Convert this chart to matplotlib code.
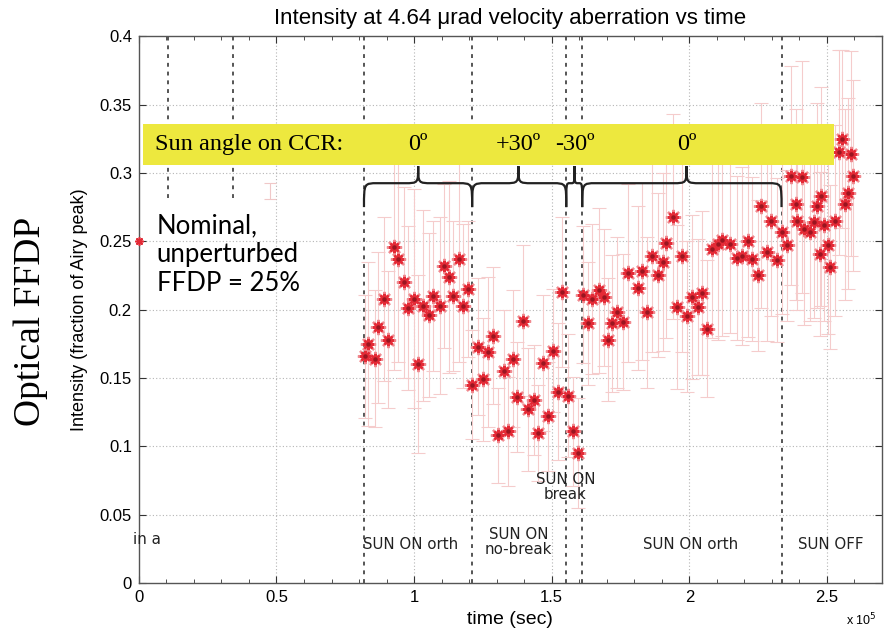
import matplotlib
matplotlib.use("Agg")
import matplotlib.pyplot as plt
from matplotlib.path import Path
from matplotlib.patches import PathPatch, Rectangle
from matplotlib.ticker import MultipleLocator

# ---------------- data (time in units of 1e5 s) ----------------
t_nominal = [0.0]
i_nominal = [0.250]

t_orth1 = [0.822, 0.834, 0.858, 0.870, 0.892, 0.907, 0.928, 0.943, 0.965, 0.979, 0.999,
           1.016, 1.034, 1.055, 1.070, 1.095, 1.107, 1.128, 1.143, 1.164, 1.179, 1.197]
i_orth1 = [0.166, 0.175, 0.164, 0.187, 0.208, 0.178, 0.246, 0.237, 0.220, 0.201, 0.208,
           0.160, 0.203, 0.196, 0.210, 0.203, 0.232, 0.224, 0.210, 0.237, 0.203, 0.215]
e_orth1 = [0.045, 0.060, 0.050, 0.055, 0.060, 0.050, 0.090, 0.075, 0.070, 0.060, 0.080,
           0.065, 0.070, 0.060, 0.055, 0.065, 0.060, 0.070, 0.055, 0.075, 0.060, 0.050]

t_nobreak = [1.212, 1.234, 1.252, 1.270, 1.288, 1.304, 1.325, 1.343, 1.361, 1.373,
             1.397, 1.413, 1.434, 1.452, 1.467, 1.488, 1.503, 1.523, 1.537]
i_nobreak = [0.145, 0.173, 0.149, 0.169, 0.181, 0.108, 0.155, 0.111, 0.164, 0.136,
             0.192, 0.127, 0.134, 0.110, 0.161, 0.122, 0.170, 0.140, 0.213]
e_nobreak = [0.040, 0.050, 0.045, 0.055, 0.050, 0.035, 0.045, 0.040, 0.050, 0.040,
             0.055, 0.045, 0.040, 0.035, 0.050, 0.040, 0.045, 0.050, 0.055]

t_break = [1.559, 1.576, 1.597]
i_break = [0.137, 0.111, 0.095]
e_break = [0.045, 0.040, 0.040]

t_orth2 = [1.612, 1.631, 1.647, 1.672, 1.691, 1.703, 1.720, 1.739, 1.760, 1.776,
           1.812, 1.829, 1.848, 1.865, 1.885, 1.905, 1.917, 1.942, 1.955, 1.975,
           1.992, 2.008, 2.030, 2.047, 2.063, 2.081, 2.105, 2.120, 2.148, 2.172,
           2.190, 2.212, 2.226, 2.248, 2.261, 2.281, 2.297, 2.319]
i_orth2 = [0.211, 0.190, 0.208, 0.214, 0.209, 0.178, 0.190, 0.198, 0.191, 0.227,
           0.216, 0.228, 0.198, 0.239, 0.225, 0.235, 0.249, 0.268, 0.202, 0.239,
           0.195, 0.209, 0.202, 0.212, 0.186, 0.244, 0.248, 0.251, 0.248, 0.238,
           0.239, 0.250, 0.237, 0.225, 0.276, 0.242, 0.265, 0.236]
e_orth2 = [0.050, 0.045, 0.055, 0.060, 0.050, 0.045, 0.050, 0.055, 0.050, 0.065,
           0.060, 0.065, 0.055, 0.070, 0.060, 0.065, 0.070, 0.075, 0.060, 0.070,
           0.055, 0.060, 0.050, 0.060, 0.050, 0.065, 0.070, 0.070, 0.065, 0.060,
           0.065, 0.070, 0.060, 0.055, 0.075, 0.065, 0.070, 0.060]

t_off = [2.338, 2.354, 2.370, 2.389, 2.392, 2.410, 2.416, 2.437, 2.452, 2.464, 2.474,
         2.479, 2.488, 2.503, 2.510, 2.531, 2.543, 2.553, 2.564, 2.576, 2.589, 2.595]
i_off = [0.257, 0.247, 0.298, 0.277, 0.265, 0.297, 0.259, 0.257, 0.264, 0.276, 0.241,
         0.283, 0.262, 0.247, 0.231, 0.265, 0.315, 0.325, 0.277, 0.285, 0.314, 0.298]
e_off = [0.060, 0.055, 0.080, 0.070, 0.065, 0.085, 0.070, 0.065, 0.070, 0.075, 0.060,
         0.080, 0.070, 0.065, 0.060, 0.070, 0.075, 0.065, 0.070, 0.070, 0.075, 0.070]

# faint stray error bar
t_faint = [0.478]
i_faint = [0.287]
e_faint = [0.006]

# phase boundaries (event times)
early_marks = [0.105, 0.342]
phase_bounds = [0.818, 1.211, 1.553, 1.611, 2.335]

# sun angle labels / brace tips
angle_labels = ["0\u00ba", "+30\u00ba", "-30\u00ba", "0\u00ba"]
angle_tips = [1.015, 1.379, 1.583, 1.990]

# bottom phase labels
phase_labels = ["SUN ON orth", "SUN ON\nno-break", "SUN ON\nbreak", "SUN ON orth", "SUN OFF"]
phase_label_x = [0.986, 1.379, 1.550, 2.005, 2.515]
phase_label_y = [0.028, 0.030, 0.070, 0.028, 0.028]

x_ticks = [0, 0.5, 1, 1.5, 2, 2.5]
x_tick_labels = ["0", "0.5", "1", "1.5", "2", "2.5"]
y_ticks = [0, 0.05, 0.1, 0.15, 0.2, 0.25, 0.3, 0.35, 0.4]
y_tick_labels = ["0", "0.05", "0.1", "0.15", "0.2", "0.25", "0.3", "0.35", "0.4"]

# ---------------- figure ----------------
fig = plt.figure(figsize=(8.9, 6.36), dpi=100)
ax = fig.add_axes([0.156, 0.0833, 0.835, 0.8597])
ax.set_xlim(0, 2.70)
ax.set_ylim(0, 0.4)

# grid
for xv in x_ticks[1:]:
    ax.axvline(xv, color="#b5b5b5", lw=0.8, ls=(0, (1, 2)), zorder=0)
for yv in y_ticks[1:-1]:
    ax.axhline(yv, color="#b5b5b5", lw=0.8, ls=(0, (1, 2)), zorder=0)

# phase lines
for xv in early_marks:
    ax.plot([xv, xv], [0.282, 0.4], color="#555555", lw=1.4, ls=(0, (2, 2.5)), zorder=1)
for xv in phase_bounds:
    ax.axvline(xv, color="#555555", lw=1.4, ls=(0, (2, 2.5)), zorder=1)

ebar_col = "#f5cccc"
star_col = "#e42a36"
groups = [(t_orth1, i_orth1, e_orth1), (t_nobreak, i_nobreak, e_nobreak),
          (t_break, i_break, e_break), (t_orth2, i_orth2, e_orth2),
          (t_off, i_off, e_off)]
for t, i, e in groups:
    ax.errorbar(t, i, yerr=e, fmt="none", ecolor=ebar_col, elinewidth=0.8,
                capsize=5, capthick=0.8, zorder=2)
ax.errorbar(t_faint, i_faint, yerr=e_faint, fmt="none", ecolor="#f0c8c8",
            elinewidth=0.8, capsize=4, capthick=0.8, zorder=2)
for t, i, e in groups:
    ax.plot(t, i, ls="none", marker=(8, 2, 0), ms=11, mew=1.6, color="#f08a90",
            zorder=3)
    ax.plot(t, i, ls="none", marker=(8, 2, 0), ms=8, mew=1.8, color=star_col,
            zorder=3)
    ax.plot(t, i, ls="none", marker="o", ms=2.2, color="#9a1520", zorder=4)
ax.plot(t_nominal, i_nominal, ls="none", marker=(8, 2, 0), ms=6, mew=1.2,
        color=star_col, zorder=3, clip_on=False)

# yellow banner
ax.add_patch(Rectangle((0.015, 0.3057), 2.509, 0.0300, facecolor="#ede83e",
                       edgecolor="none", zorder=5))
ax.text(0.06, 0.3207, "Sun angle on CCR:", family="Liberation Serif", fontsize=17.5,
        va="center", ha="left", zorder=6)
for lab, xt in zip(angle_labels, angle_tips):
    ax.text(xt, 0.3207, lab, family="Liberation Serif", fontsize=17.5,
            va="center", ha="center", zorder=6)

# braces
yt, yh, ye = 0.3050, 0.2925, 0.2750
starts = phase_bounds[:-1]
ends = phase_bounds[1:]
for x0, x1, xm in zip(starts, ends, angle_tips):
    rx = min(0.05, (xm - x0) / 2.2, (x1 - xm) / 2.2)
    verts = [(x0, ye),
             (x0, yh), (x0, yh), (x0 + rx, yh),
             (xm - rx, yh),
             (xm, yh), (xm, yh), (xm, yt),
             (xm, yh), (xm, yh), (xm + rx, yh),
             (x1 - rx, yh),
             (x1, yh), (x1, yh), (x1, ye)]
    codes = [Path.MOVETO,
             Path.CURVE4, Path.CURVE4, Path.CURVE4,
             Path.LINETO,
             Path.CURVE4, Path.CURVE4, Path.CURVE4,
             Path.CURVE4, Path.CURVE4, Path.CURVE4,
             Path.LINETO,
             Path.CURVE4, Path.CURVE4, Path.CURVE4]
    ax.add_patch(PathPatch(Path(verts, codes), facecolor="none",
                           edgecolor="#222222", lw=1.6, zorder=6))

# annotations
ax.text(0.065, 0.240, "Nominal,\nunperturbed\nFFDP = 25%", family="Lato",
        fontsize=18.5, va="center", ha="left", linespacing=1.2, zorder=6)
for lab, xl, yl in zip(phase_labels, phase_label_x, phase_label_y):
    ax.text(xl, yl, lab, family="DejaVu Sans", fontsize=10.8, ha="center",
            va="center", linespacing=1.0, color="#222222", zorder=6)
ax.text(0.03, 0.032, "in a", family="DejaVu Sans", fontsize=10.8, ha="center",
        va="center", color="#222222", zorder=6, clip_on=False)

# axes styling
ax.set_xticks(x_ticks)
ax.set_xticklabels(x_tick_labels)
ax.xaxis.set_minor_locator(MultipleLocator(0.1))
ax.set_yticks(y_ticks)
ax.set_yticklabels(y_tick_labels)
ax.tick_params(which="both", direction="in", top=True, right=True,
               labelsize=12, pad=5, color="#333333")
ax.tick_params(which="major", length=5)
ax.tick_params(which="minor", length=3)
for lab in ax.get_xticklabels() + ax.get_yticklabels():
    lab.set_family("Liberation Sans")
for sp in ax.spines.values():
    sp.set_color("#555555")
    sp.set_linewidth(1.0)

ax.set_title("Intensity at 4.64 \u03bcrad velocity aberration vs time",
             family="Liberation Sans", fontsize=16, pad=9)
ax.set_xlabel("time (sec)", family="Liberation Sans", fontsize=14, labelpad=4)
ax.set_ylabel("Intensity (fraction of Airy peak)", family="Liberation Sans",
              fontsize=13, labelpad=8)
fig.text(0.985, 0.012, "x 10$^5$", family="Liberation Sans", fontsize=9,
         ha="right", va="bottom")
fig.text(0.034, 0.495, "Optical FFDP", family="Liberation Serif", fontsize=27,
         rotation=90, ha="center", va="center")

fig.savefig("out.png", dpi=100)
